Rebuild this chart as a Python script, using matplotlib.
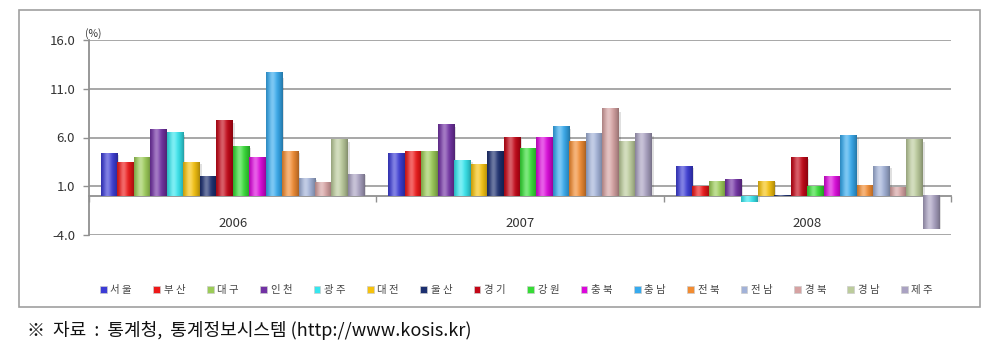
import numpy as np
import matplotlib
matplotlib.use("Agg")
import matplotlib.pyplot as plt
from matplotlib.patches import Patch, Rectangle
from matplotlib.colors import to_rgb

plt.rcParams['font.family'] = ['Noto Sans CJK KR', 'DejaVu Sans']

years = ['2006', '2007', '2008']
regions = ['서울', '부산', '대구', '인천', '광주', '대전', '울산', '경기',
           '강원', '충북', '충남', '전북', '전남', '경북', '경남', '제주']
colors = ['#3c3cd6', '#ee1818', '#9ccc58', '#7232a4', '#36e6ee', '#f6c20e',
          '#1c2f70', '#c40616', '#36dc36', '#dc08dc', '#36aaee', '#f28c32',
          '#a2b2d8', '#d6a2a2', '#bccc9c', '#aaa2c2']

# growth rate (%) per region, one list per year
v2006 = [4.35, 3.4, 3.95, 6.8, 6.55, 3.45, 1.95, 7.75, 5.1, 3.95, 12.65, 4.6, 1.75, 1.35, 5.8, 2.25]
v2007 = [4.4, 4.55, 4.55, 7.35, 3.65, 3.2, 4.6, 6.05, 4.9, 5.95, 7.15, 5.6, 6.45, 8.95, 5.6, 6.4]
v2008 = [3.0, 1.0, 1.45, 1.7, -0.6, 1.45, 0.1, 4.0, 0.95, 2.0, 6.25, 1.05, 3.0, 0.85, 5.8, -3.4]
values = np.array([v2006, v2007, v2008])

yticks = [-4.0, 1.0, 6.0, 11.0, 16.0]

fig = plt.figure(figsize=(9.97, 3.54), dpi=100)
ax = fig.add_axes([89/997, 1-235/354, 862/997, 195/354])

w = 0.0573
x = np.arange(len(years))


def shaded(c):
    # horizontal shading to fake the 3D bar look
    r = np.array(to_rgb(c))
    t = np.linspace(0, 1, 40)
    light = 0.35 * np.exp(-((t - 0.38) / 0.22) ** 2)
    dark = 0.30 * (np.abs(t - 0.45) / 0.55) ** 2
    rows = r[None, :] * (1 - dark[:, None]) + (1 - r[None, :]) * light[:, None]
    return np.clip(rows, 0, 1)[None, :, :]


for i, (name, c) in enumerate(zip(regions, colors)):
    xs = x + (i - 7.5) * w
    bars = ax.bar(xs, values[:, i], w, color=c, edgecolor='none', zorder=3)
    for b in bars:
        x0, y0 = b.get_x(), b.get_y()
        bw, bh = b.get_width(), b.get_height()
        ax.imshow(shaded(c), extent=[x0, x0 + bw, min(y0, y0 + bh), max(y0, y0 + bh)],
                  aspect='auto', zorder=4, interpolation='bilinear')
        # shadow on right side
        ax.add_patch(Rectangle((x0 + bw, min(0, bh)), w * 0.12, abs(bh) * 0.96,
                               color='#000000', alpha=0.12, lw=0, zorder=2.5))

ax.set_xlim(-0.5, 2.5)
ax.set_ylim(-4, 16)
ax.set_yticks(yticks)
ax.set_yticklabels(['%.1f' % t for t in yticks], fontsize=9.5, color='#333333')
ax.yaxis.grid(True, color='#a0a0a0', lw=1.3, zorder=0)
ax.set_axisbelow(True)

ax.set_xticks([-0.5, 0.5, 1.5, 2.5])
ax.set_xticklabels([])
ax.tick_params(axis='x', length=4, color='#909090', width=1)
ax.tick_params(axis='y', length=4, color='#909090', width=1, pad=6)

for s in ['top', 'right']:
    ax.spines[s].set_visible(False)
ax.spines['bottom'].set_position(('data', 0))
ax.spines['bottom'].set_color('#909090')
ax.spines['bottom'].set_linewidth(1.3)
ax.spines['left'].set_color('#909090')
ax.spines['left'].set_linewidth(1.3)

for xi, yr in zip(x, years):
    ax.text(xi, -2.85, yr, ha='center', va='center', fontsize=9.5, color='#333333')

ax.text(-0.515, 16.1, '(%)', ha='left', va='bottom', fontsize=7.5, color='#333333')

handles = [Patch(facecolor=c, edgecolor='#cccccc', lw=0.5) for c in colors]
labels = [' '.join(n) for n in regions]
fig.legend(handles, labels, loc='center', bbox_to_anchor=(0.518, 1 - 290/354), ncol=16,
           fontsize=7.5, frameon=False, handlelength=0.65, handleheight=0.65,
           handletextpad=0.35, columnspacing=2.05, labelcolor='#444444')

fig.patches.append(Rectangle((19/997, 1 - 307/354), 961/997, 297/354, transform=fig.transFigure,
                             fill=False, edgecolor='#a0a0a0', lw=1.2))

fig.text(27/997, 1 - 331/354, '※  자료  :  통계청,  통계정보시스템 (http://www.kosis.kr)',
         fontsize=13, va='center', ha='left', color='#111111')

fig.savefig('out.png', dpi=100)
